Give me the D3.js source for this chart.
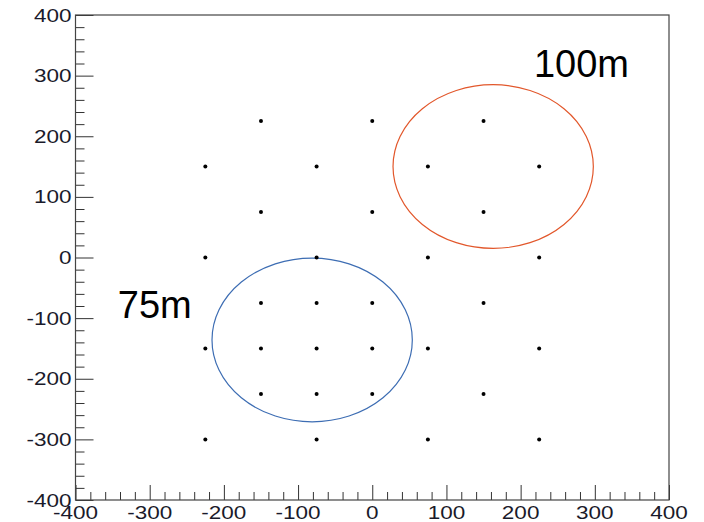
<!DOCTYPE html>
<html>
<head>
<meta charset="utf-8">
<script src="https://cdn.jsdelivr.net/npm/d3@7"></script>
<style>
body{margin:0;background:#fff;}
svg{display:block;}
</style>
</head>
<body>
<svg id="chart" width="704" height="522"></svg>
<script>
// Data
const pointsX = [-150, 0, 150,
                 -225, -75, 75, 225,
                 -150, 0, 150,
                 -225, -75, 75, 225,
                 -150, -75, 0, 150,
                 -225, -150, -75, 0, 75, 225,
                 -150, -75, 0, 150,
                 -225, -75, 75, 225];
const pointsY = [225, 225, 225,
                 150, 150, 150, 150,
                 75, 75, 75,
                 0, 0, 0, 0,
                 -75, -75, -75, -75,
                 -150, -150, -150, -150, -150, -150,
                 -225, -225, -225, -225,
                 -300, -300, -300, -300];
const circleNames = ["75m", "100m"];
const circleCX = [-81, 163];
const circleCY = [-136, 150];
const circleR = [135, 135];
const labelX = [-343, 218];
const labelY = [-70, 328];
const tickValues = [-400, -300, -200, -100, 0, 100, 200, 300, 400];

const svg = d3.select("#chart");
const L = 75.5, R = 669, T = 15, B = 500;
const x = d3.scaleLinear().domain([-400, 400]).range([L, R]);
const y = d3.scaleLinear().domain([-400, 400]).range([B, T]);

const font = "'Liberation Sans', Arial, sans-serif";

// axes
svg.append("g").attr("transform", `translate(0,${B})`)
  .call(d3.axisTop(x).tickValues(tickValues).tickSize(15).tickFormat(""));
svg.append("g").attr("transform", `translate(0,${B})`)
  .call(d3.axisTop(x).tickValues(d3.range(-400, 401, 20).filter(v => v % 100 !== 0)).tickSize(8).tickFormat(""));
svg.append("g").attr("transform", `translate(${L},0)`)
  .call(d3.axisRight(y).tickValues(tickValues).tickSize(18).tickFormat(""));
svg.append("g").attr("transform", `translate(${L},0)`)
  .call(d3.axisRight(y).tickValues(d3.range(-400, 401, 20).filter(v => v % 100 !== 0)).tickSize(9).tickFormat(""));
svg.selectAll(".domain").remove();
svg.selectAll(".tick line").attr("stroke", "#333").attr("stroke-width", 1);

// frame
svg.append("rect").attr("x", L).attr("y", T).attr("width", R - L).attr("height", B - T)
  .attr("fill", "none").attr("stroke", "#444").attr("stroke-width", 1.2);

// tick labels (wide Helvetica-like, as in the reference)
const sx = 1.25;
svg.append("g").selectAll("text").data(tickValues).join("text")
  .attr("transform", d => `translate(${x(d)},${B + 19}) scale(${sx},1)`)
  .attr("text-anchor", "middle")
  .attr("font-family", font).attr("font-size", 18).attr("fill", "#1a1a2a")
  .text(d => d);
svg.append("g").selectAll("text").data(tickValues).join("text")
  .attr("transform", d => `translate(${L - 4},${y(d) + 6.5}) scale(${sx},1)`)
  .attr("text-anchor", "end")
  .attr("font-family", font).attr("font-size", 18).attr("fill", "#1a1a2a")
  .text(d => d);

// circles
const colors = ["#3d6db3", "#e2572b"];
svg.append("g").selectAll("ellipse").data(circleNames).join("ellipse")
  .attr("cx", (d, i) => x(circleCX[i]))
  .attr("cy", (d, i) => y(circleCY[i]))
  .attr("rx", (d, i) => x(circleR[i]) - x(0))
  .attr("ry", (d, i) => y(0) - y(circleR[i]))
  .attr("fill", "none").attr("stroke", (d, i) => colors[i]).attr("stroke-width", 1.2);

// points
svg.append("g").selectAll("circle").data(pointsX).join("circle")
  .attr("cx", (d, i) => x(d)).attr("cy", (d, i) => y(pointsY[i]))
  .attr("r", 2).attr("fill", "#000");

// labels
svg.append("g").selectAll("text").data(circleNames).join("text")
  .attr("x", (d, i) => x(labelX[i])).attr("y", (d, i) => y(labelY[i]) + 18)
  .attr("font-family", font).attr("font-size", 38).attr("fill", "#000")
  .text(d => d);
</script>
</body>
</html>
